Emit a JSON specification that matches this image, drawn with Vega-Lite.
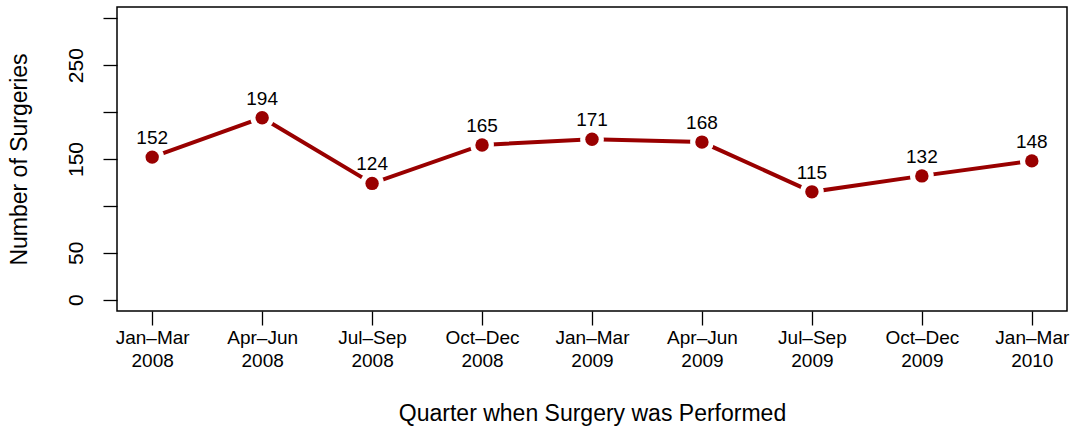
{
  "$schema": "https://vega.github.io/schema/vega-lite/v6.json",
  "width": 950,
  "height": 304,
  "autosize": "none",
  "padding": {"left": 117, "top": 7, "right": 8, "bottom": 116},
  "config": {
    "font": "Liberation Sans",
    "view": {"stroke": "black", "strokeWidth": 1.5},
    "axis": {"grid": false, "domain": false, "tickColor": "black", "tickWidth": 1.3, "tickSize": 14, "labelColor": "black", "titleColor": "black", "titleFontWeight": "normal", "titleFont": "Liberation Sans", "labelFont": "Liberation Sans"}
  },
  "data": {"values": [
    {"i": 1, "n": 152},
    {"i": 2, "n": 194},
    {"i": 3, "n": 124},
    {"i": 4, "n": 165},
    {"i": 5, "n": 171},
    {"i": 6, "n": 168},
    {"i": 7, "n": 115},
    {"i": 8, "n": 132},
    {"i": 9, "n": 148}
  ]},
  "encoding": {
    "x": {"field": "i", "type": "quantitative",
      "scale": {"domain": [0.68, 9.32], "nice": false, "zero": false},
      "axis": {"values": [1,2,3,4,5,6,7,8,9], "labelFontSize": 19, "labelPadding": 3, "labelLineHeight": 23, "labelBaseline": "top",
        "labelExpr": "[['Jan–Mar','2008'],['Apr–Jun','2008'],['Jul–Sep','2008'],['Oct–Dec','2008'],['Jan–Mar','2009'],['Apr–Jun','2009'],['Jul–Sep','2009'],['Oct–Dec','2009'],['Jan–Mar','2010']][datum.value-1]",
        "title": "Quarter when Surgery was Performed", "titleFontSize": 23, "titlePadding": 32, "labelFlush": false}},
    "y": {"field": "n", "type": "quantitative",
      "scale": {"domain": [-12, 312], "nice": false, "zero": false},
      "axis": {"values": [0,50,100,150,200,250,300], "labelAngle": -90, "labelFontSize": 21, "labelPadding": 21, "labelAlign": "center", "labelBaseline": "alphabetic",
        "labelExpr": "(datum.value==100||datum.value==200||datum.value==300)?'':datum.label",
        "title": "Number of Surgeries", "titleFontSize": 23, "titlePadding": 34, "labelFlush": false}}
  },
  "layer": [
    {"mark": {"type": "line", "color": "#990000", "strokeWidth": 4}},
    {"mark": {"type": "point", "filled": true, "color": "white", "opacity": 1, "size": 560}},
    {"mark": {"type": "point", "filled": true, "color": "#990000", "opacity": 1, "size": 180}},
    {"mark": {"type": "text", "fontSize": 19, "dy": -13, "baseline": "alphabetic", "color": "black"}, "encoding": {"text": {"field": "n", "type": "quantitative"}}}
  ]
}
